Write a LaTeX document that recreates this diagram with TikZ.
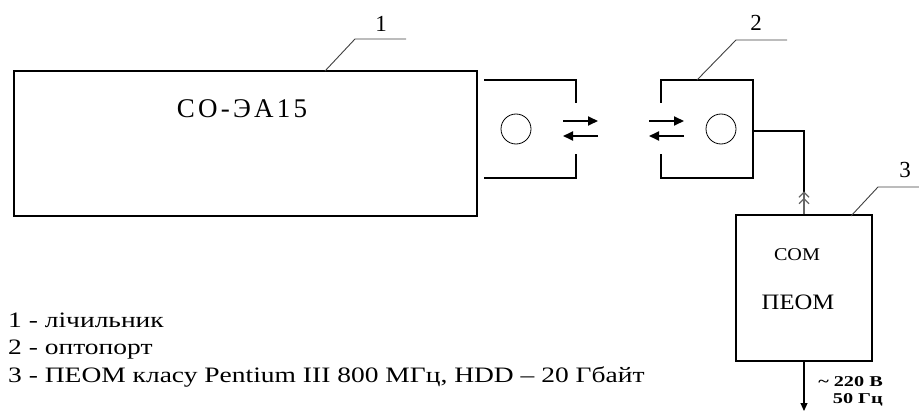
\documentclass[tikz,border=0pt]{standalone}
\usepackage{fontspec}
\setmainfont{Liberation Serif}
\newfontfamily\meterfont[LetterSpace=12]{Liberation Serif}
\newfontfamily\widefont[FakeStretch=1.25]{Liberation Serif}
\newfontfamily\pcfont[FakeStretch=1.12]{Liberation Serif}
\newfontfamily\voltfont[FakeStretch=1.35]{Liberation Serif}
\usetikzlibrary{arrows.meta, positioning}

\begin{document}
\begin{tikzpicture}[
    x=1pt, y=-1pt,
    box/.style={rectangle, draw, line width=1.1pt, inner sep=0pt},
    lens/.style={circle, draw, line width=0.8pt, minimum size=30pt, inner sep=0pt},
    wire/.style={line width=1.1pt},
    ray/.style={-{Triangle[length=10pt,width=9pt]}, line width=1.8pt},
    leader/.style={line width=0.9pt, black!75},
    tag/.style={font=\fontsize{23}{23}\selectfont, inner sep=0pt},
    legend/.style={font=\widefont\fontsize{22}{22}\selectfont, anchor=base west, inner sep=0pt},
    volt/.style={font=\voltfont\bfseries\fontsize{15}{15}\selectfont, anchor=east, inner sep=0pt}
]
\useasboundingbox (0,0) rectangle (919,420);

% meter
\node[box, minimum width=463pt, minimum height=145pt] (meter) at (245.5,143.5) {};
\node[font=\meterfont\fontsize{27}{27}\selectfont, inner sep=0pt] (meterlabel) at (242,109) {СО-ЭА15};
\node[tag] (tag1) at (381,24) {1};
\draw[leader] (325,71) -- (355,39) -- (406,39);

% optoport on the meter
\node[lens] (lens1) at (516,129) {};
\draw[wire] (484,80) -| (576,103);
\draw[wire] (484,178) -| (576,154);
\draw[ray] (563,121) -- (598,121);
\draw[ray] (598,136) -- (563,136);

% optoport head
\node[lens] (lens2) at (721,129) {};
\draw[wire] (661,103) -- (661,80) -- (753,80) -- (753,178) -- (661,178) -- (661,154);
\draw[ray] (649,121) -- (684,121);
\draw[ray] (684,136) -- (649,136);
\node[tag] (tag2) at (756,23) {2};
\draw[leader] (697,80) -- (736,40) -- (787,40);

% computer
\node[box, minimum width=136pt, minimum height=146pt] (pc) at (804,288) {};
\node[font=\pcfont\fontsize{18}{18}\selectfont, inner sep=0pt] (com) at (797,255) {COM};
\node[font=\pcfont\fontsize{22}{22}\selectfont, inner sep=0pt] (peom) at (798,302) {ПЕОМ};
\node[tag] (tag3) at (905,170) {3};
\draw[leader] (851,216) -- (878,187) -- (919,187);

\coordinate (port) at (753,131);
\draw[wire] (port) -| (pc.north);
\draw[line width=1.2pt, black!60, -{Straight Barb[length=5pt,width=10pt] Straight Barb[length=5pt,width=10pt]}] (pc.north) -- ++(0,-23);

\coordinate (mains) at (804,411);
\draw[wire, -{Triangle[length=8pt,width=7pt]}] (pc.south) -- (mains);
\node[volt] (voltage) at (883,382) {\textasciitilde{} 220 В};
\node[volt] (freq) at (883,400) {50 Гц};

% legend
\node[legend] (item1) at (8,327) {1 - лічильник};
\node[legend] (item2) at (8,354) {2 - оптопорт};
\node[legend] (item3) at (8,382) {3 - ПЕОМ класу Pentium III 800 МГц, HDD – 20 Гбайт};
\end{tikzpicture}
\end{document}
